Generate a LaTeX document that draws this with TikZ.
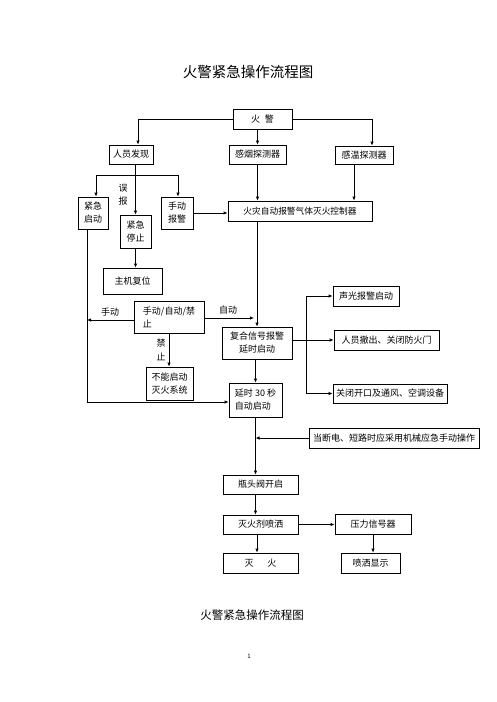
\documentclass[tikz,border=0pt]{standalone}
\usepackage{fontspec}
\setmainfont{Noto Sans CJK SC}
\usepackage{tikz}
\usetikzlibrary{positioning,arrows.meta}

\begin{document}
\begin{tikzpicture}[x=1pt,y=-1pt,
  box/.style={draw,line width=0.8pt,inner sep=0pt,font=\fontsize{9}{13}\selectfont},
  arr/.style={line width=0.9pt,-{Latex[length=4pt,width=3.5pt]}},
  lbl/.style={font=\fontsize{9}{11}\selectfont}]

  \useasboundingbox (0,0) rectangle (496,702);

  % titles
  \node at (248,72) {\fontsize{14.5}{16}\selectfont 火警紧急操作流程图};
  \node at (252,615) {\fontsize{11.5}{13}\selectfont 火警紧急操作流程图};
  \node at (249,656) {\fontsize{6}{7}\selectfont 1};

  % boxes
  \node[box,minimum width=59pt,minimum height=20pt] (fire) at (262.5,119) {火\hspace{5pt}警};
  \node[box,minimum width=44pt,minimum height=19pt] (person) at (131,154.5) {人员发现};
  \node[box,minimum width=57pt,minimum height=19pt] (smoke) at (257.5,154.5) {感烟探测器};
  \node[box,minimum width=58pt,minimum height=18pt] (heat) at (364,155) {感温探测器};
  \node[box,minimum width=144pt,minimum height=20pt,font=\fontsize{8.7}{12}\selectfont] (ctrl) at (300,211) {火灾自动报警气体灭火控制器};
  \node[box,minimum width=30pt,minimum height=32pt,align=center] (estart) at (93,213) {紧急\\启动};
  \node[box,minimum width=31pt,minimum height=33pt,align=center] (estop) at (135.5,231.5) {紧急\\停止};
  \node[box,minimum width=32pt,minimum height=32pt,align=center] (manual) at (177,213) {手动\\报警};
  \node[box,minimum width=59pt,minimum height=26pt] (reset) at (132.5,281) {主机复位};
  \node[box,minimum width=70pt,minimum height=32pt,align=left] (mode) at (169,317) {手动/自动/禁\\止};
  \node[box,minimum width=70pt,minimum height=32pt,align=center] (combo) at (257,343) {复合信号报警\\延时启动};
  \node[box,minimum width=47pt,minimum height=33pt,align=center] (nostart) at (169.5,383.5) {不能启动\\灭火系统};
  \node[box,minimum width=53pt,minimum height=34pt,align=left] (delay) at (255.5,400) {延时 30 秒\\自动启动};
  \node[box,minimum width=66pt,minimum height=20pt] (sound) at (366,296) {声光报警启动};
  \node[box,minimum width=105pt,minimum height=20pt] (evac) at (386.5,340) {人员撤出、关闭防火门};
  \node[box,minimum width=114pt,minimum height=19pt] (vent) at (390,393.5) {关闭开口及通风、空调设备};
  \node[box,minimum width=170pt,minimum height=20pt] (power) at (394,438) {当断电、短路时应采用机械应急手动操作};
  \node[box,minimum width=75pt,minimum height=19pt] (valve) at (260.5,484.5) {瓶头阀开启};
  \node[box,minimum width=75pt,minimum height=19pt] (spray) at (260.5,524.5) {灭火剂喷洒};
  \node[box,minimum width=76pt,minimum height=20pt] (press) at (373,524) {压力信号器};
  \node[box,minimum width=59pt,minimum height=20pt] (show) at (370.5,563) {喷洒显示};
  \node[box,minimum width=75pt,minimum height=20pt] (out) at (260.5,563) {灭\hspace{14pt}火};

  % labels
  \node[lbl] at (123,188) {误};
  \node[lbl] at (123,201) {报};
  \node[lbl] at (110,312) {手动};
  \node[lbl] at (228,310) {自动};
  \node[lbl] at (161,343) {禁};
  \node[lbl] at (161,357) {止};

  % junctions
  \coordinate (split) at (135.5,175);
  \coordinate (leftline) at (87,229);
  \coordinate (fork) at (306,340);

  % connectors
  \draw[arr] (fire.west) -| ([xshift=7pt]person.north);
  \draw[arr] (fire.south -| smoke.north) -- (smoke.north);
  \draw[arr] (fire.east) -| ([xshift=8pt]heat.north);
  \draw[arr] (smoke.south) -- (smoke.south |- ctrl.north);
  \draw[arr] ([xshift=-10pt]heat.south) -- ([xshift=-10pt]heat.south |- ctrl.north);

  \draw[arr] (estop.north |- person.south) -- (estop.north);
  \draw[arr] (split) -| ([xshift=3pt]estart.north);
  \draw[arr] (split) -| ([xshift=1pt]manual.north);
  \draw[arr] (manual.east) -- (manual.east -| ctrl.west);
  \draw[arr] (estop.south) -- (estop.south |- reset.north);

  \draw[arr] (leftline) |- ([yshift=-2pt]delay.west);
  \draw[arr] ([yshift=-3pt]mode.west) -- ([yshift=-3pt]mode.west -| leftline);
  \draw[arr] ([yshift=-1pt]mode.east) -- ([yshift=-1pt,xshift=-3pt]mode.east -| combo.north);
  \draw[arr] (combo.north |- ctrl.south) -- (combo.north);
  \draw[arr] (mode.south) -- (mode.south |- nostart.north);
  \draw[arr] (delay.north |- combo.south) -- (delay.north);

  \draw[line width=0.9pt] (combo.east |- fork) -- (fork);
  \draw[arr] (fork) |- (sound.west);
  \draw[arr] (fork) -- (evac.west);
  \draw[arr] (fork) |- (vent.west);

  \draw[arr] (power.west) -- (power.west -| delay.south);
  \draw[arr] (delay.south) -- (delay.south |- valve.north);
  \draw[arr] (delay.south |- valve.south) -- (delay.south |- spray.north);
  \draw[arr] ([xshift=-3.5pt]spray.south) -- ([xshift=-3.5pt]out.north);
  \draw[arr] (spray.east) -- (spray.east -| press.west);
  \draw[arr] (press.south) -- (press.south |- show.north);
\end{tikzpicture}
\end{document}
